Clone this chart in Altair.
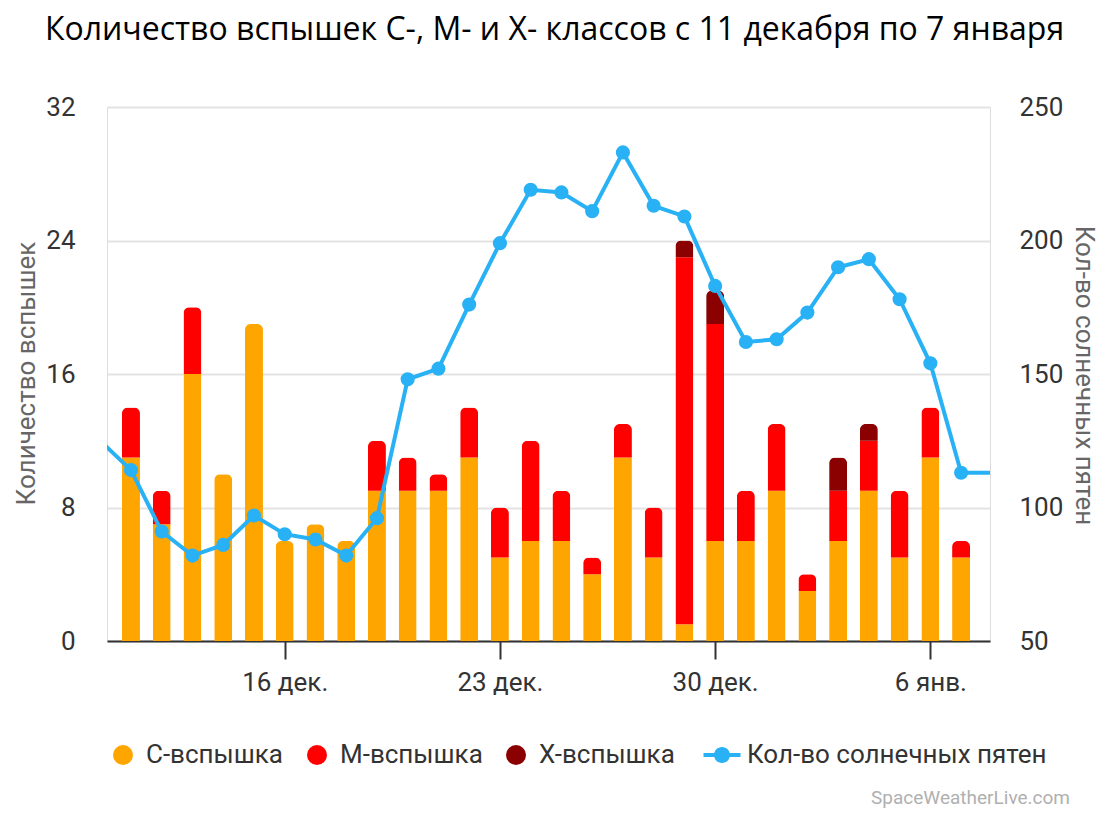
import altair as alt
import pandas as pd

# ---- data ----
day_index = list(range(28))  # 11 Dec .. 7 Jan
c_flares = [11, 7, 16, 10, 19, 6, 7, 6, 9, 9, 9, 11, 5, 6, 6, 4, 11, 5, 1, 6, 6, 9, 3, 6, 9, 5, 11, 5]
m_flares = [3, 2, 4, 0, 0, 0, 0, 0, 3, 2, 1, 3, 3, 6, 3, 1, 2, 3, 22, 13, 3, 4, 1, 3, 3, 4, 3, 1]
x_flares = [0, 0, 0, 0, 0, 0, 0, 0, 0, 0, 0, 0, 0, 0, 0, 0, 0, 0, 1, 2, 0, 0, 0, 2, 1, 0, 0, 0]
sunspots = [114, 91, 82, 86, 97, 90, 88, 82, 96, 148, 152, 176, 199, 219, 218, 211, 233, 213, 209,
            183, 162, 163, 173, 190, 193, 178, 154, 113]
# neighbouring days (10 Dec, 8 Jan) – only visible as line stubs at the edges
sunspot_edge_days = [-1, 28]
sunspot_edge_vals = [125, 113]

tick_days = [5, 12, 19, 26]
tick_labels = ["16 дек.", "23 дек.", "30 дек.", "6 янв."]

class_names = ["C-вспышка", "M-вспышка", "X-вспышка"]
class_colors = ["#FFA500", "#FF0000", "#8B0000"]
spot_name = "Кол-во солнечных пятен"
line_color = "#29B1F5"

# ---- tables ----
rows = []
for i in day_index:
    for k, (name, vals) in enumerate(zip(class_names, [c_flares, m_flares, x_flares])):
        if vals[i] > 0:
            rows.append({"day": i, "cls": name, "val": vals[i], "ord": k})
bars_df = pd.DataFrame(rows)

line_df = pd.DataFrame({
    "day": [sunspot_edge_days[0]] + day_index + [sunspot_edge_days[1]],
    "spots": [sunspot_edge_vals[0]] + sunspots + [sunspot_edge_vals[1]],
})
pts_df = pd.DataFrame({"day": day_index, "spots": sunspots, "name": spot_name})

label_expr = " : ".join(
    f"datum.value == {d} ? '{l}'" for d, l in zip(tick_days, tick_labels)
) + " : ''"

FONT = "Roboto"
FS = 26

x_enc = alt.X(
    "day:Q",
    scale=alt.Scale(domain=[-0.78, 27.94], nice=False, zero=False, padding=0),
    axis=alt.Axis(
        values=tick_days, labelExpr=label_expr, grid=False, title=None,
        domainColor="#333333", domainWidth=2, tickColor="#333333", tickWidth=2,
        tickSize=18, labelPadding=10, labelFontSize=FS, labelColor="#333333",
        labelFont=FONT,
    ),
)

line_shape = "M-1.85,-0.2H1.85V0.2H-1.85Z M0.8,0A0.8,0.8,0,1,1,-0.8,0A0.8,0.8,0,1,1,0.8,0Z"

bars = alt.Chart(bars_df).mark_bar(
    size=18, cornerRadiusTopLeft=6, cornerRadiusTopRight=6
).encode(
    x=x_enc,
    y=alt.Y(
        "val:Q", stack="zero",
        scale=alt.Scale(domain=[0, 32], nice=False),
        axis=alt.Axis(
            values=[0, 8, 16, 24, 32], title="Количество вспышек", grid=True,
            gridColor="#e3e3e3", gridWidth=2, domain=False, ticks=False,
            labelPadding=32, labelFontSize=FS, labelColor="#333333", labelFont=FONT,
            titleFont=FONT, titleFontSize=FS, titleFontWeight="normal",
            titleColor="#666666", titleX=-68, titleY=266,
        ),
    ),
    color=alt.Color(
        "cls:N",
        scale=alt.Scale(domain=class_names, range=class_colors),
        legend=alt.Legend(
            title=None, orient="none", direction="horizontal",
            legendX=3, legendY=635, symbolType="circle", symbolSize=400,
            symbolStrokeWidth=0, labelFont=FONT, labelFontSize=FS,
            labelColor="#333333", labelOffset=10, columnPadding=20,
        ),
    ),
    order=alt.Order("ord:Q", sort="ascending"),
)

y_right = alt.Y(
    "spots:Q",
    scale=alt.Scale(domain=[50, 250], nice=False),
    axis=alt.Axis(
        orient="right", values=[50, 100, 150, 200, 250], title="Кол-во солнечных пятен",
        grid=False, domain=False, ticks=False, labelPadding=29, labelFontSize=FS,
        labelColor="#333333", labelFont=FONT, titleFont=FONT, titleFontSize=FS,
        titleFontWeight="normal", titleColor="#666666", titleX=80, titleY=268,
    ),
)

line = alt.Chart(line_df).mark_line(
    color=line_color, strokeWidth=4, clip=True
).encode(x=x_enc, y=y_right)

pts = alt.Chart(pts_df).mark_circle(size=200, opacity=1).encode(
    x=x_enc, y=y_right,
    fill=alt.Fill(
        "name:N",
        scale=alt.Scale(domain=[spot_name], range=[line_color]),
        legend=alt.Legend(
            title=None, orient="none", direction="horizontal",
            legendX=602, legendY=635, symbolType=line_shape, symbolSize=400,
            symbolStrokeWidth=0, symbolOpacity=1, labelFont=FONT, labelFontSize=FS,
            labelColor="#333333", labelOffset=12, labelLimit=500,
        ),
    ),
)

watermark = alt.Chart(pd.DataFrame({"t": ["SpaceWeatherLive.com"]})).mark_text(
    align="right", baseline="middle", font=FONT, fontSize=19, color="#b0b0b0"
).encode(x=alt.value(963), y=alt.value(691), text="t:N")

chart = alt.layer(
    bars, alt.layer(line, pts), watermark
).resolve_scale(y="independent").properties(
    width=883, height=534,
    padding={"left": 107, "top": 107, "right": 118, "bottom": 173},
    autosize=alt.AutoSizeParams(type="none"),
    title=alt.TitleParams(
        "Количество вспышек C-, M- и X- классов с 11 декабря по 7 января",
        font="Open Sans", fontSize=32, fontWeight="normal", color="#000000",
        anchor="middle", offset=47, dx=6,
    ),
).configure_view(stroke=None).configure(background="white")

chart.save("out.html", embed_options={"renderer": "svg", "actions": False})
